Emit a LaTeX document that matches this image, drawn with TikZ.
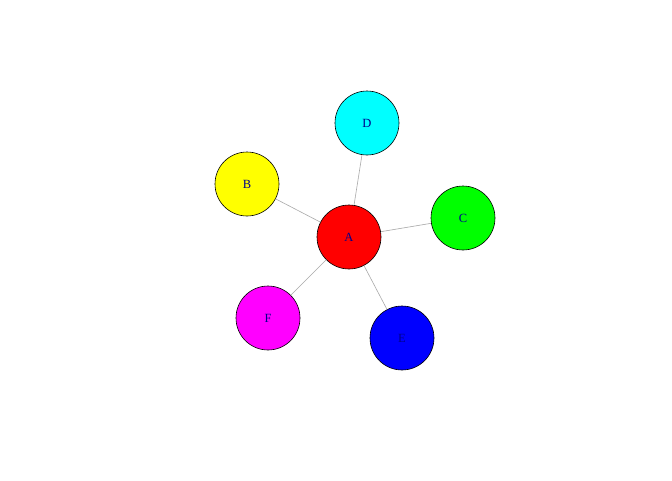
\documentclass[tikz,border=0pt]{standalone}
\usepackage{fontspec}
\setmainfont{Liberation Serif}
\definecolor{vlabel}{RGB}{0,0,139}
\definecolor{vedge}{HTML}{A9A9A9}
\definecolor{vred}{RGB}{255,0,0}
\definecolor{vyellow}{RGB}{255,255,0}
\definecolor{vgreen}{RGB}{0,255,0}
\definecolor{vcyan}{RGB}{0,255,255}
\definecolor{vblue}{RGB}{0,0,255}
\definecolor{vmagenta}{RGB}{255,0,255}
\newcommand{\vfont}{\fontsize{12.5}{14}\selectfont}
\tikzset{
  vertex/.style={circle,draw=black,line width=0.6pt,minimum size=64pt,inner sep=0,text=vlabel,font=\vfont},
  link/.style={vedge,line width=0.6pt}
}
\begin{document}
\begin{tikzpicture}[x=1pt,y=-1pt]
\useasboundingbox[fill=white] (0,0) rectangle (672,480);
\node[vertex,fill=vred] (A) at (349,237) {A};
\node[vertex,fill=vyellow] (B) at (247,184) {B};
\node[vertex,fill=vgreen] (C) at (463,218) {C};
\node[vertex,fill=vcyan] (D) at (367,123) {D};
\node[vertex,fill=vblue] (E) at (402,338) {E};
\node[vertex,fill=vmagenta] (F) at (268,318) {F};
\draw[link] (A) -- (B);
\draw[link] (A) -- (C);
\draw[link] (A) -- (D);
\draw[link] (A) -- (E);
\draw[link] (A) -- (F);
\end{tikzpicture}
\end{document}
